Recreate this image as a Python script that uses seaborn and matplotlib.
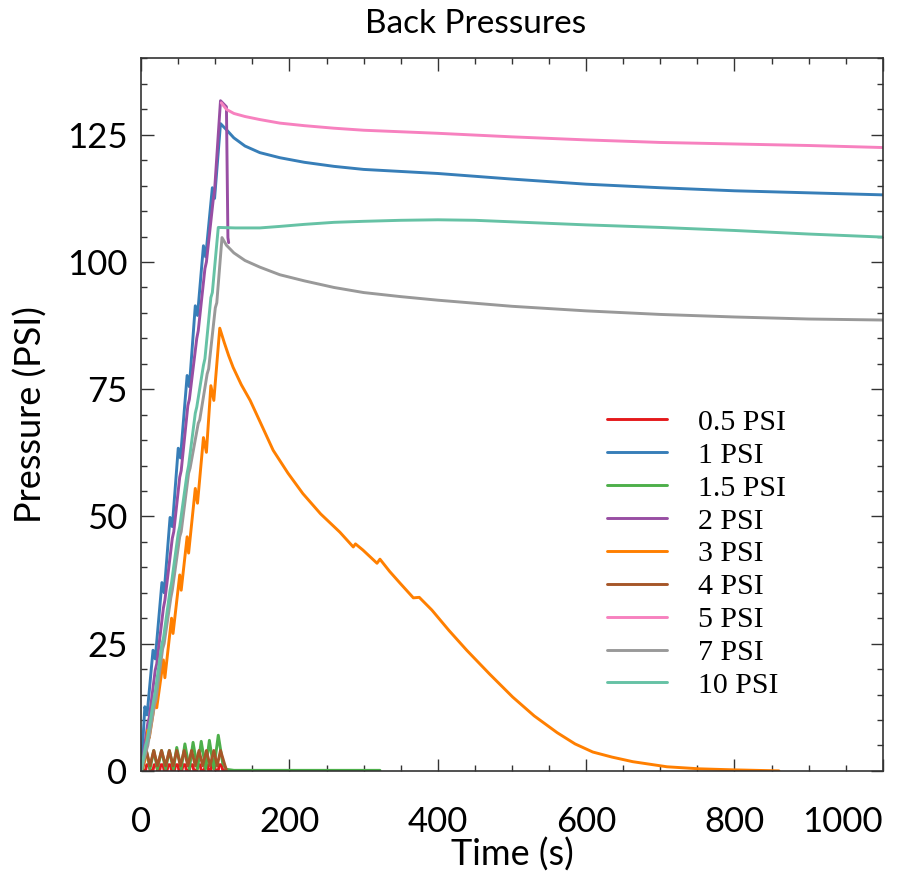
import numpy as np
import pandas as pd
import matplotlib
matplotlib.use("Agg")
import matplotlib.pyplot as plt
import seaborn as sns
from matplotlib.ticker import MultipleLocator

# ---------------- data ----------------
series_names = ["0.5 PSI", "1 PSI", "1.5 PSI", "2 PSI", "3 PSI", "4 PSI", "5 PSI", "7 PSI", "10 PSI"]
series_colors = ["#e41a1c", "#377eb8", "#4daf4a", "#984ea3", "#ff7f00", "#a65628", "#f781bf", "#999999", "#66c2a5"]

t_05 = [0, 6, 7.5, 10.5, 12, 16, 17.5, 20.5, 22, 25, 26.5, 29.5, 31, 35, 36.5, 39.5, 41,
        45, 46.5, 49.5, 51, 55, 56.5, 59.5, 61, 65, 66.5, 69.5, 71, 75, 76.5, 79.5, 81,
        85, 86.5, 89.5, 91, 94, 95.5, 98.5, 100, 104, 105.5, 108.5, 110, 118, 320]
p_05 = [0.1, 0.1, 1.2, 1.2, 0.1, 0.1, 1.2, 1.2, 0.1, 0.1, 1.2, 1.2, 0.1, 0.1, 1.2, 1.2, 0.1,
        0.1, 1.2, 1.2, 0.1, 0.1, 1.2, 1.2, 0.1, 0.1, 1.2, 1.2, 0.1, 0.1, 1.2, 1.2, 0.1,
        0.1, 1.2, 1.2, 0.1, 0.1, 1.2, 1.2, 0.1, 0.1, 1.2, 1.2, 0.1, 0.0, 0.0]

t_1 = [0, 5, 8, 16, 19, 28, 31, 39, 42, 50, 53, 62, 65, 73, 76, 84, 87, 96, 99, 107,
       115, 125, 140, 160, 187, 220, 260, 300, 350, 400, 500, 600, 700, 800, 900, 1000, 1030]
p_1 = [0, 12.6, 11.0, 23.7, 22.0, 37, 35.0, 49.8, 48.0, 63.4, 61.5, 77.7, 75.5, 91.4, 89.5, 103.2, 101.0, 114.6, 112.5, 127.2,
       126.0, 124.4, 122.8, 121.5, 120.5, 119.6, 118.8, 118.2, 117.8, 117.4, 116.3, 115.3, 114.6, 114.0, 113.6, 113.2, 113.1]

t_15 = [0, 2, 7, 12, 17, 22, 27.5, 33, 38, 43.5, 48, 54, 59, 65, 70, 76, 81, 87, 92, 98, 104, 110, 115, 125, 322]
p_15 = [0.3, 0.3, 4.0, 0.4, 4.0, 0.4, 4.0, 0.4, 4.0, 0.4, 4.6, 0.4, 5.3, 0.4, 5.6, 0.4, 5.8, 0.4, 6.0, 0.4, 7.0, 1.5, 0.3, 0.1, 0.1]

t_2 = [0, 9, 11, 19, 21, 30, 32, 42, 44, 52, 54, 63, 65, 75, 77, 86, 88, 97, 99, 107, 115, 117, 118]
p_2 = [0, 9.4, 10.5, 19.8, 21, 32, 33.5, 45.7, 47, 57.7, 59, 71.8, 73, 85, 86.5, 98.7, 100, 112, 114, 131.7, 130.5, 104.8, 103.8]

t_3 = [0, 5, 9, 11, 19, 21, 30, 32, 41, 43, 52, 54, 62, 64, 73, 76, 84, 88, 94, 98, 106,
       112, 118, 124, 135, 147, 160, 178, 198, 218, 242, 268, 286, 289, 299, 318, 322, 335, 349, 367, 375, 392,
       415, 439, 470, 501, 530, 561, 585, 609, 635, 663, 709, 753, 798, 860]
p_3 = [0, 2, 8, 6.5, 13.9, 12.4, 21.8, 18.3, 30, 27, 38.5, 35.5, 46, 42.8, 55.5, 52.6, 65.5, 62.6, 75.7, 72.8, 87,
       84.2, 81.6, 79.3, 75.9, 72.8, 68.7, 63, 58.5, 54.5, 50.5, 46.9, 44, 44.6, 43.4, 40.8, 41.6, 39.2, 36.9, 34, 34.1, 31.6,
       27.6, 23.7, 19.0, 14.5, 10.8, 7.5, 5.3, 3.7, 2.7, 1.8, 0.8, 0.4, 0.2, 0.0]

t_4 = [0, 2, 7, 12, 17, 22, 27.5, 33, 38, 43, 48, 53, 58, 63, 68, 73, 78, 83, 88, 93, 98, 102.5, 107, 115]
p_4 = [0.3, 1.0, 4.0, 1.0, 4.0, 1.0, 4.0, 1.0, 4.0, 1.0, 4.0, 1.0, 4.0, 1.0, 4.0, 1.0, 4.0, 1.0, 4.0, 1.0, 4.0, 1.0, 4.0, 0.1]

t_5 = [108, 115, 125, 140, 160, 187, 220, 260, 300, 350, 400, 500, 600, 700, 800, 900, 1000, 1030]
p_5 = [131.3, 130.0, 129.2, 128.6, 128, 127.3, 126.8, 126.3, 125.9, 125.6, 125.3, 124.6, 124, 123.5, 123.2, 122.9, 122.5, 122.4]

t_7 = [0, 7, 9, 18, 20, 29, 31, 40, 42, 52, 54, 64, 66, 77, 79, 89, 91, 100, 102, 109,
       115, 125, 140, 160, 187, 220, 260, 300, 350, 400, 500, 600, 700, 800, 900, 1000, 1030]
p_7 = [0, 4, 5, 13, 14, 24, 25, 34, 35.5, 46, 47, 58.5, 59.5, 68.3, 69, 78, 79, 91, 92, 104.8,
       103.3, 101.8, 100.3, 99, 97.5, 96.3, 95, 94, 93.2, 92.5, 91.3, 90.4, 89.7, 89.2, 88.8, 88.6, 88.6]

t_10 = [0, 6, 8, 17, 19, 28, 30, 39, 41, 50, 52, 62, 64, 73, 75, 84, 86, 94, 96, 104,
        127, 160, 187, 220, 260, 300, 350, 400, 450, 500, 600, 700, 800, 900, 1000, 1030]
p_10 = [0, 5, 6, 14, 15.5, 25, 26, 35.5, 37, 46.7, 48, 58.5, 60, 70.3, 71.5, 79.7, 81, 93, 94, 106.8,
        106.7, 106.7, 107, 107.4, 107.8, 108, 108.2, 108.3, 108.2, 107.9, 107.3, 106.8, 106.2, 105.5, 104.9, 104.8]

series_t = [t_05, t_1, t_15, t_2, t_3, t_4, t_5, t_7, t_10]
series_p = [p_05, p_1, p_15, p_2, p_3, p_4, p_5, p_7, p_10]

x_ticks = [0, 200, 400, 600, 800, 1000]
y_ticks = [0, 25, 50, 75, 100, 125]

# ---------------- build long table ----------------
frames = []
for name, tt, pp in zip(series_names, series_t, series_p):
    frames.append(pd.DataFrame({"Time": tt, "Pressure": pp, "Series": name}))
df = pd.concat(frames, ignore_index=True)

# ---------------- plot ----------------
sns.set_style("ticks")
plt.rcParams["font.family"] = ["Lato", "DejaVu Sans"]
plt.rcParams["text.color"] = "black"
plt.rcParams["axes.labelcolor"] = "black"

fig = plt.figure(figsize=(8.99, 8.73), dpi=100)
ax = fig.add_axes([0.157, 0.117, 0.825, 0.816])

sns.lineplot(data=df, x="Time", y="Pressure", hue="Series", hue_order=series_names,
             palette=dict(zip(series_names, series_colors)), sort=False, estimator=None,
             linewidth=2.1, ax=ax)

ax.set_xlim(0, 1000)
ax.set_ylim(0, 140)
ax.set_xticks(x_ticks)
ax.set_yticks(y_ticks)
ax.xaxis.set_minor_locator(MultipleLocator(50))
ax.yaxis.set_minor_locator(MultipleLocator(5))
ax.tick_params(which="both", direction="in", top=True, right=True, color="#333333", width=1.0,
               labelcolor="black")
ax.tick_params(which="major", length=9, labelsize=25)
ax.tick_params(axis="y", which="major", pad=10)
ax.tick_params(axis="x", which="major", pad=25)
ax.tick_params(which="minor", length=4.5)
for s in ax.spines.values():
    s.set_color("#333333")
    s.set_linewidth(1.2)

xlabels = ax.get_xticklabels()
xlabels[-1].set_horizontalalignment("right")

ax.set_xlabel("Time (s)", fontsize=26, labelpad=0)
ax.set_ylabel("Pressure (PSI)", fontsize=26, labelpad=14)
ax.set_title("Back Pressures", fontsize=24, pad=18, x=0.451)

handles, labels = ax.get_legend_handles_labels()
ax.legend(handles, labels, loc="upper left", bbox_to_anchor=(0.628, 0.508), frameon=False,
          prop={"family": "Liberation Serif", "size": 21.5}, handlelength=2.0, handletextpad=1.05,
          labelspacing=0.2, borderpad=0, borderaxespad=0)

fig.savefig("out.png", dpi=100)
